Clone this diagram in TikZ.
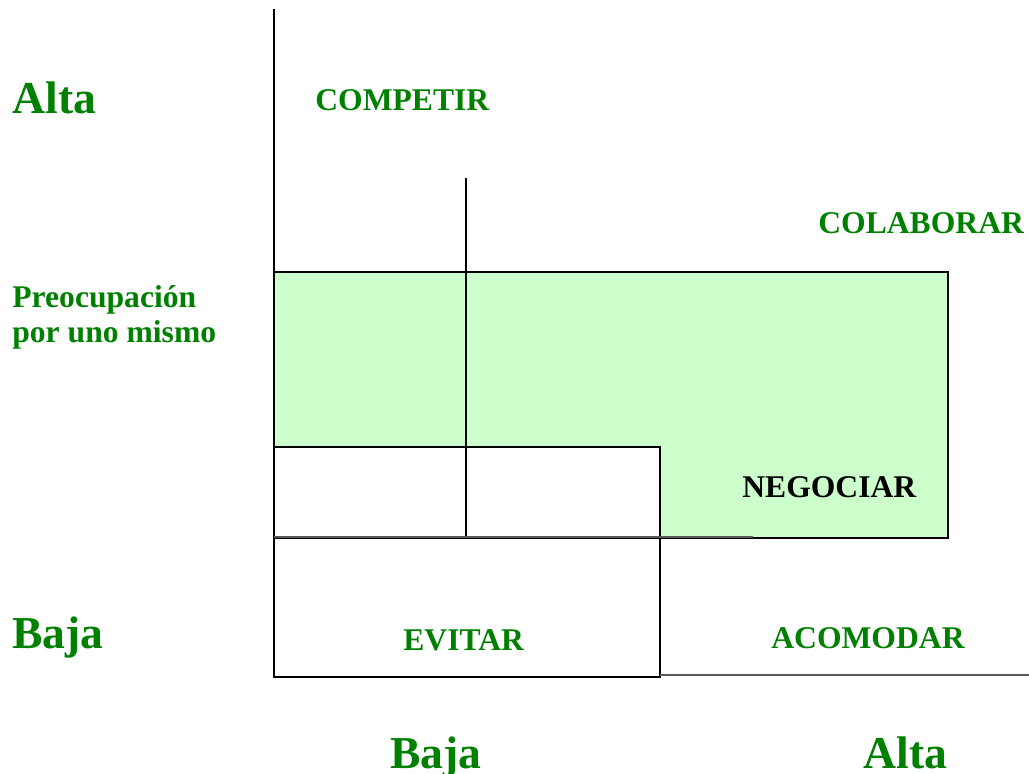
\documentclass[tikz,border=0pt]{standalone}
\usepackage{fontspec}
\setmainfont{Liberation Serif}
\usetikzlibrary{positioning}
\definecolor{verde}{HTML}{008000}
\definecolor{verdeclaro}{HTML}{CCFFCC}

\begin{document}
\begin{tikzpicture}[x=0.02cm, y=-0.02cm]
    \tikzstyle{estilo} = [font=\bfseries\fontsize{18}{20}\selectfont, text=verde, inner sep=0pt, anchor=base west]
    \tikzstyle{nivel} = [font=\bfseries\fontsize{26}{30}\selectfont, text=verde, inner sep=0pt, anchor=base west]
    \tikzstyle{borde} = [draw=black, line width=1.1pt]
    \tikzstyle{eje} = [draw=black, line width=0.7pt]
    \tikzstyle{gris} = [draw=black!65, line width=0.8pt]

    \useasboundingbox (0,0) rectangle (1029,774);

    % Colaborar / negociar area
    \filldraw[borde, fill=verdeclaro] (274,272) rectangle (948,538);
    \filldraw[borde, fill=white] (274,447) rectangle (660,538);

    % Evitar cell
    \draw[borde] (274,538) rectangle (660,677);

    % Axis lines
    \draw[eje] (274,9) -- (274,447);
    \draw[eje] (466,178) -- (466,537);
    \draw[gris] (274,537) -- (753,537);
    \draw[gris] (660,675) -- (1029,675);

    % Vertical axis labels
    \node[nivel] (altaizq) at (12,113) {Alta};
    \node[estilo] (preo) at (12,307) {Preocupación};
    \node[estilo] (mismo) at (12,342) {por uno mismo};
    \node[nivel] (bajaizq) at (12,648) {Baja};

    % Styles
    \node[estilo] (competir) at (315,111) {COMPETIR};
    \node[estilo] (colaborar) at (818,233) {COLABORAR};
    \node[estilo, text=black] (negociar) at (742,497) {NEGOCIAR};
    \node[estilo] (evitar) at (403,650) {EVITAR};
    \node[estilo] (acomodar) at (771,648) {ACOMODAR};

    % Horizontal axis labels
    \node[nivel] (bajaabajo) at (390,768) {Baja};
    \node[nivel] (altaabajo) at (863,768) {Alta};

\end{tikzpicture}
\end{document}
